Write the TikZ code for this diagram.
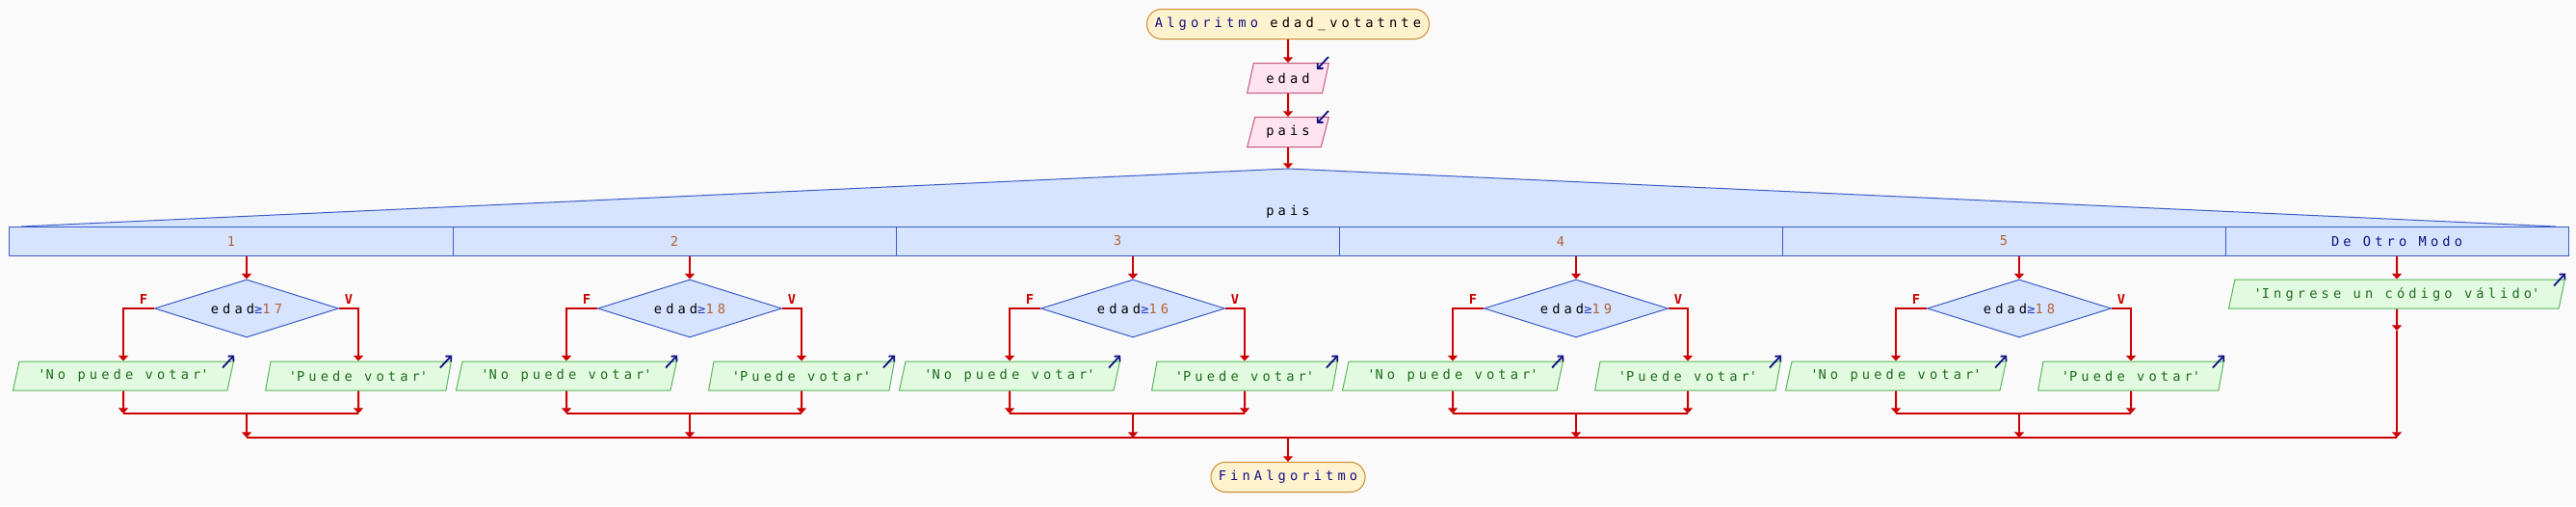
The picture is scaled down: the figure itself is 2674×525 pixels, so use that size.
\documentclass[tikz,border=0pt]{standalone}
\usepackage{fontspec}
\usepackage{tikz}
\usetikzlibrary{positioning, shapes.geometric, arrows.meta}

\newfontfamily\psmono{DejaVu Sans Mono}[LetterSpace=30]
\newcommand{\cadena}[1]{\textquotesingle#1\textquotesingle}

\definecolor{bg}{HTML}{FAFAFA}
\definecolor{termfill}{HTML}{FFF2CF}
\definecolor{termline}{HTML}{CC8A2E}
\definecolor{infill}{HTML}{FFE3EF}
\definecolor{inline}{HTML}{C4567F}
\definecolor{swfill}{HTML}{D6E4FF}
\definecolor{swline}{HTML}{3A5BC7}
\definecolor{outfill}{HTML}{E2FBE0}
\definecolor{outline}{HTML}{5BB65B}
\definecolor{flowred}{HTML}{CC0000}
\definecolor{navy}{HTML}{10107F}
\definecolor{numc}{HTML}{B5602E}
\definecolor{strc}{HTML}{1F6A1F}
\definecolor{opc}{HTML}{2E3FB5}

\begin{document}
\begin{tikzpicture}[x=0.25mm, y=-0.25mm,
    every node/.style={font=\psmono\fontsize{9.75}{12}\selectfont},
    term/.style={draw=termline, fill=termfill, line width=0.25mm, rounded corners=3.8mm, minimum height=7.75mm, inner sep=0pt},
    inbox/.style={trapezium, trapezium left angle=68, trapezium right angle=112, trapezium stretches=true, draw=inline, fill=infill, line width=0.25mm, minimum width=21.25mm, minimum height=7.75mm, inner sep=0pt},
    outbox/.style={trapezium, trapezium left angle=68, trapezium right angle=112, trapezium stretches=true, draw=outline, fill=outfill, text=strc, line width=0.25mm, minimum height=7.5mm, inner sep=0pt},
    cond/.style={diamond, aspect=3.2, draw=swline, fill=swfill, line width=0.25mm, minimum width=47.75mm, minimum height=15mm, inner sep=0pt},
    case/.style={draw=swline, fill=swfill, line width=0.25mm, minimum width=115mm, minimum height=7.5mm, inner sep=0pt},
    flow/.style={draw=flowred, line width=0.5mm, -{Triangle[width=2.5mm, length=1.4mm]}},
    merge/.style={draw=flowred, line width=0.5mm},
    branch/.style={text=flowred, font=\psmono\fontsize{9.75}{12}\selectfont\bfseries},
    icon/.style={draw=navy, line width=0.45mm, -{Straight Barb[length=1mm, width=2mm]}},
]

% Background
\fill[bg] (0,0) rectangle (2674,525);
\useasboundingbox (0,0) rectangle (2674,525);

% Draw the start and the inputs
\node[term, minimum width=73.25mm] (ini) at (1337,25) {{\color{navy}Algoritmo} edad\_votatnte};
\node[inbox, below=6mm of ini] (edad) {edad};
\node[inbox, below=6mm of edad] (pais) {pais};
\draw[flow] (ini) -- (edad);
\draw[flow] (edad) -- (pais);
\draw[icon] ([shift={(-1,-6)}]edad.top right corner) -- ++(-12,13);
\draw[icon] ([shift={(-1,-6)}]pais.top right corner) -- ++(-12,13);

% Draw the switch
\coordinate (tope) at (1337,175);
\coordinate (jn) at (1337,454);
\fill[swfill] (22,235) -- (tope) -- (2653,235) -- cycle;
\draw[swline, line width=0.25mm] (22,235) -- (tope) -- (2653,235);
\node (sel) at (1337,220) {pais};
\draw[flow] (pais) -- (tope);

\node[case] (k1) at (240,250) {\color{numc}1};
\node[case] (k2) at (700,250) {\color{numc}2};
\node[case] (k3) at (1160,250) {\color{numc}3};
\node[case] (k4) at (1620,250) {\color{numc}4};
\node[case] (k5) at (2080,250) {\color{numc}5};
\node[case, minimum width=89mm] (k6) at (2488,250) {\color{navy}De Otro Modo};

% Draw the cases
\foreach \i/\v in {1/17, 2/18, 3/16, 4/19, 5/18} {
    \pgfmathsetmacro{\cx}{256+460*(\i-1)}
    \node[cond] (d\i) at (\cx,320) {edad{\color{opc}≥}{\color{numc}\v}};
    \node[outbox, minimum width=57.25mm] (no\i) at (\cx-128,390) {\cadena{No puede votar}};
    \node[outbox, minimum width=48.25mm] (si\i) at (\cx+116,390) {\cadena{Puede votar}};
    \coordinate (m\i) at (\cx,429);
    \node[branch] (f\i) at ([shift={(-11,-10)}]d\i.west) {F};
    \node[branch] (v\i) at ([shift={(10,-10)}]d\i.east) {V};
    \draw[flow] (k\i.south -| d\i) -- (d\i);
    \draw[flow] (d\i.west) -| (no\i);
    \draw[flow] (d\i.east) -| (si\i);
    \draw[flow] (no\i) -- (no\i |- m\i);
    \draw[flow] (si\i) -- (si\i |- m\i);
    \draw[merge] (no\i |- m\i) -- (si\i |- m\i);
    \draw[flow] (m\i) -- (m\i |- jn);
    \draw[icon] ([shift={(-12,7)}]no\i.top right corner) -- ++(12,-13);
    \draw[icon] ([shift={(-12,7)}]si\i.top right corner) -- ++(12,-13);
}

% Draw the default case
\node[outbox, minimum width=87.25mm] (otro) at (2488,305) {\cadena{Ingrese un código válido}};
\coordinate (e6) at (2488,343);
\draw[flow] (k6) -- (otro);
\draw[flow] (otro) -- (e6);
\draw[flow] (e6) -- (e6 |- jn);
\draw[icon] ([shift={(-12,7)}]otro.top right corner) -- ++(12,-13);

% Draw the end
\node[term, minimum width=40mm] (fin) at (1337,495) {\color{navy}FinAlgoritmo};
\draw[merge] (m1 |- jn) -- (e6 |- jn);
\draw[flow] (jn) -- (fin);

\end{tikzpicture}
\end{document}
